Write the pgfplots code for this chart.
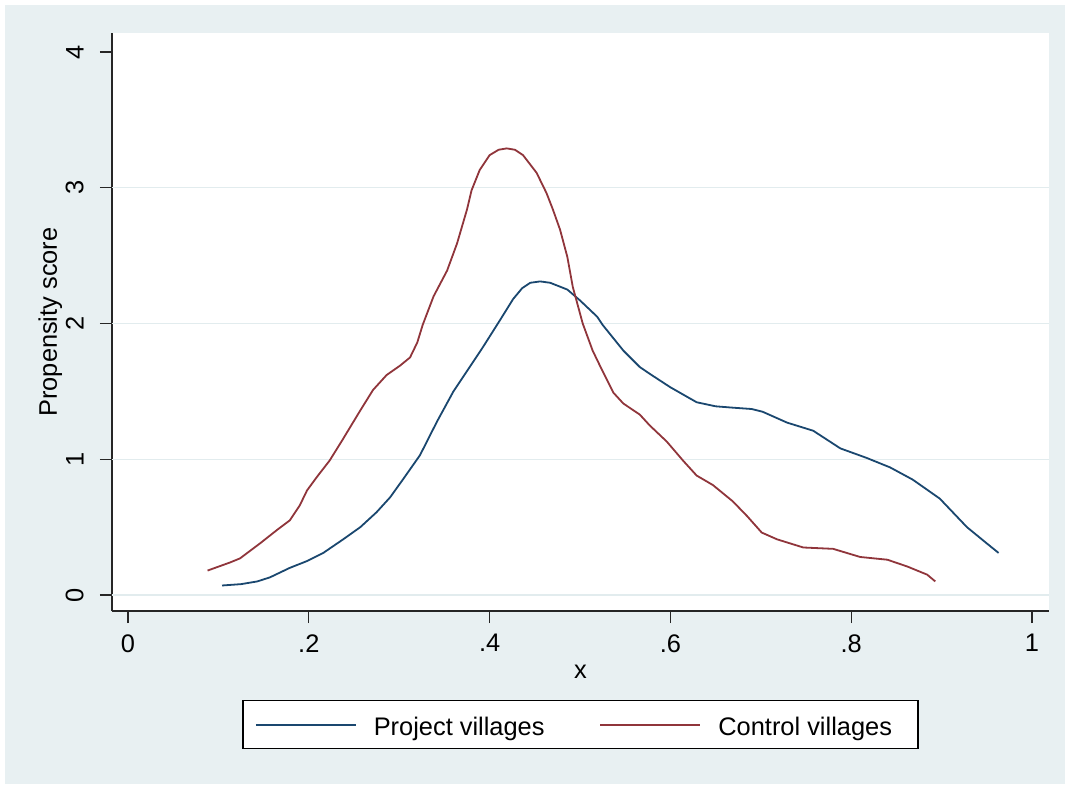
\documentclass[border=0pt]{standalone}
\usepackage{fontspec}
\setmainfont{Liberation Sans}
\usepackage{pgfplots}
\pgfplotsset{compat=1.18}
\definecolor{bgc}{RGB}{232,240,242}
\definecolor{gridc}{RGB}{226,236,238}
\definecolor{snavy}{RGB}{26,71,111}
\definecolor{smaroon}{RGB}{144,53,59}
\newcommand\ff{\fontsize{12.7pt}{15pt}\selectfont}
\begin{document}
\begin{tikzpicture}
\useasboundingbox (0,0) rectangle (532.5pt,392pt);
\fill[white] (0,0) rectangle (532.5pt,392pt);
\fill[bgc] (2.5pt,0) rectangle (532.5pt,389.5pt);
\begin{axis}[
  at={(56pt,86.5pt)}, anchor=south west,
  width=468.5pt, height=289pt, scale only axis,
  xmin=-0.0177, xmax=1.0188, ymin=-0.1179, ymax=4.140,
  axis background/.style={fill=white},
  separate axis lines,
  axis x line*=bottom, axis y line*=left,
  x axis line style={-, black!85, line width=0.6pt},
  y axis line style={-, black!85, line width=0.6pt},
  tick align=outside, major tick length=6pt,
  tick style={black!85, line width=0.6pt},
  xtick={0,0.2,0.4,0.6,0.8,1},
  xticklabels={0,.2,.4,.6,.8,1},
  ytick={0,1,2,3,4},
  yticklabels={0,1,2,3,4},
  extra y ticks={0,1,2,3},
  extra y tick labels={},
  extra y tick style={major tick length=0pt, ymajorgrids=true, grid style={gridc, line width=0.6pt}},
  /pgf/number format/assume math mode=true,
  xticklabel style={font=\ff, inner sep=0pt, anchor=north, yshift=-5.5pt},
  yticklabel style={font=\ff, rotate=90, anchor=south, inner xsep=0pt, inner ysep=8pt},
  xlabel={x},
  ylabel={Propensity score},
  xlabel style={font=\ff, at={(axis description cs:0.5,-0.1159)}, anchor=base},
  ylabel style={font=\ff, at={(axis description cs:-0.0587,0.5)}, anchor=base},
  legend columns=2,
  legend image code/.code={\draw[#1] (0pt,0pt) -- (50pt,0pt);},
  legend style={at={(0.5,-0.154)}, anchor=north, draw=black, line width=0.6pt, fill=white,
    inner xsep=6pt, inner ysep=6pt,
    nodes={inner sep=0pt, font=\ff, text height=11.5pt, text depth=0.5pt},
    /tikz/every odd column/.append style={column sep=8.5pt},
    /tikz/every even column/.append style={column sep=27.5pt}},
]
\addplot[snavy, line width=0.9pt] coordinates {
(0.104,0.07) (0.125,0.08) (0.143,0.10) (0.157,0.13) (0.179,0.20) (0.198,0.25)
(0.216,0.31) (0.238,0.41) (0.257,0.50) (0.275,0.61) (0.290,0.72) (0.304,0.85)
(0.323,1.03) (0.342,1.28) (0.360,1.50) (0.378,1.68) (0.393,1.83) (0.412,2.03)
(0.426,2.18) (0.436,2.26) (0.445,2.30) (0.456,2.31) (0.467,2.30) (0.486,2.25)
(0.500,2.17) (0.519,2.05) (0.525,1.99) (0.548,1.80) (0.566,1.68) (0.577,1.63)
(0.600,1.53) (0.629,1.42) (0.650,1.39) (0.669,1.38) (0.690,1.37) (0.702,1.35)
(0.729,1.27) (0.758,1.21) (0.788,1.08) (0.817,1.01) (0.843,0.94) (0.868,0.85)
(0.898,0.71) (0.928,0.50) (0.950,0.38) (0.963,0.31)
};
\addlegendentry{Project villages}
\addplot[smaroon, line width=0.9pt] coordinates {
(0.088,0.18) (0.113,0.24) (0.124,0.27) (0.146,0.38) (0.165,0.48) (0.179,0.55)
(0.190,0.66) (0.198,0.77) (0.209,0.87) (0.223,0.99) (0.237,1.14) (0.257,1.36)
(0.271,1.51) (0.286,1.62) (0.301,1.69) (0.312,1.75) (0.320,1.86) (0.326,1.99)
(0.338,2.20) (0.353,2.39) (0.364,2.59) (0.375,2.84) (0.380,2.98) (0.389,3.13)
(0.400,3.24) (0.410,3.28) (0.419,3.29) (0.428,3.28) (0.437,3.24) (0.452,3.11)
(0.463,2.96) (0.470,2.84) (0.478,2.69) (0.486,2.49) (0.492,2.27) (0.503,2.00)
(0.514,1.80) (0.522,1.69) (0.537,1.49) (0.548,1.41) (0.566,1.33) (0.577,1.25)
(0.596,1.13) (0.614,0.99) (0.629,0.88) (0.647,0.81) (0.669,0.69) (0.685,0.58)
(0.701,0.46) (0.718,0.41) (0.747,0.35) (0.780,0.34) (0.810,0.28) (0.840,0.26)
(0.862,0.21) (0.884,0.15) (0.893,0.10)
};
\addlegendentry{Control villages\hspace*{7pt}}
\end{axis}
\end{tikzpicture}
\end{document}
